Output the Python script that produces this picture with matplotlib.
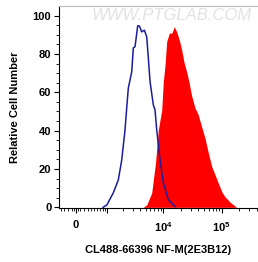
import numpy as np
import matplotlib
matplotlib.use("Agg")
import matplotlib.pyplot as plt
from matplotlib.ticker import FixedLocator

plt.rcParams['font.family'] = ['Liberation Sans', 'DejaVu Sans']
plt.rcParams['font.weight'] = 'bold'
plt.rcParams['mathtext.fontset'] = 'custom'
plt.rcParams['mathtext.rm'] = 'Liberation Sans:bold'
plt.rcParams['mathtext.bf'] = 'Liberation Sans:bold'
plt.rcParams['mathtext.default'] = 'bf'

# isotype control (blue outline)
blue_x = [815, 986, 1317, 1633, 1884, 2160, 2316, 2473, 2839, 3028, 3243, 3616, 3886,
          4241, 4705, 5179, 5517, 5905, 6733, 7198, 7701, 8778, 10000, 12190, 15890]
blue_y = [0, 1.3, 7.6, 14.3, 24.7, 40.4, 52, 62.2, 70.7, 83.1, 83.8, 94.7, 94.5,
          91.5, 92.4, 89, 77.9, 65.6, 53.4, 50.8, 40.4, 24.7, 12.8, 3.9, 0.4]

# stained sample (red fill)
red_x = [4470, 5180, 6320, 7340, 8210, 9390, 10000, 10700, 11440, 12680, 14110, 15450,
         16990, 18840, 20700, 22680, 25230, 27610, 30730, 35000, 39430, 45640, 51980,
         59210, 67710, 77140, 87840, 101700, 114500, 139500, 176800]
red_y = [0, 1.3, 7.6, 23.3, 40.4, 50.8, 65.6, 74.3, 86.5, 90.8, 91, 94.2,
         91.5, 87.2, 82, 75.6, 70.5, 65.3, 58, 51.8, 48.6, 41.8, 36,
         28.4, 21.3, 17, 12.6, 7.9, 5.5, 2.7, 0.3]

x_major = [0, 1e3, 1e4, 1e5]
x_major_labels = ['0', '', r'$10^4$', r'$10^5$']
x_minor = [-400, -300, -200, -100, -50, 50, 100, 200, 300, 400, 500, 600, 700, 800, 900,
           2e3, 3e3, 4e3, 5e3, 6e3, 7e3, 8e3, 9e3,
           2e4, 3e4, 4e4, 5e4, 6e4, 7e4, 8e4, 9e4, 2e5, 3e5, 4e5]

W = 637.0


def fwd(x):
    return np.arcsinh(np.asarray(x) / W)


def inv(y):
    return W * np.sinh(np.asarray(y))


fig = plt.figure(figsize=(2.58, 2.62), dpi=100)
ax = fig.add_axes([59 / 258, 53.7 / 262, 199 / 258, 202.3 / 262])
ax.set_xscale('function', functions=(fwd, inv))

ax.fill_between(red_x, red_y, 0, color='#ff0000', lw=0)
ax.plot(blue_x, blue_y, color='#1c1c9c', lw=1.1)

ax.set_xlim(-461, 421000)
ax.set_ylim(-0.5, 105)

ax.xaxis.set_major_locator(FixedLocator(x_major))
ax.set_xticklabels(x_major_labels)
ax.xaxis.set_minor_locator(FixedLocator(x_minor))
ax.yaxis.set_major_locator(FixedLocator([0, 20, 40, 60, 80, 100]))
ax.yaxis.set_minor_locator(FixedLocator(np.arange(0, 105, 5)))

ax.tick_params(which='major', length=3.5, width=0.8, labelsize=8, pad=2)
ax.tick_params(axis='x', which='major', pad=5)
ax.tick_params(which='minor', length=2, width=0.6)

ax.spines['right'].set_visible(False)
ax.spines['top'].set_color('#bbbbbb')
ax.spines['top'].set_linewidth(0.8)
ax.spines['left'].set_linewidth(0.8)
ax.spines['bottom'].set_linewidth(0.8)

ax.set_ylabel('Relative Cell Number', fontsize=8, fontweight='bold', labelpad=9)
ax.set_xlabel('CL488-66396 NF-M(2E3B12)', fontsize=8, fontweight='bold', labelpad=8)

fig.text(172 / 258, 1 - 15 / 262, 'WWW.PTGLAB.COM', fontsize=12, fontweight='normal',
         style='italic', color='#e2e2e2', ha='center', va='center')

fig.savefig('out.png', dpi=100)
